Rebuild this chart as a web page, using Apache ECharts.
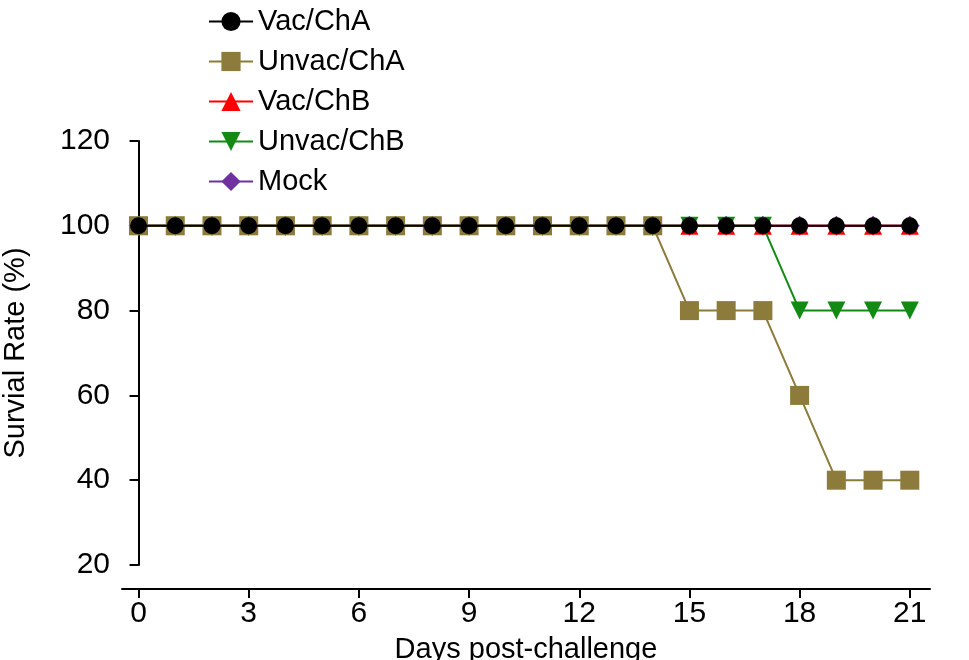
<!DOCTYPE html>
<html><head><meta charset="utf-8">
<script src="https://cdn.jsdelivr.net/npm/echarts@6/dist/echarts.min.js"></script>
<style>html,body{margin:0;background:#fff}#root{width:969px;height:660px}</style>
</head><body><div id="root"></div>
<script>
// days 0..21
var days = [];
for (var d = 0; d <= 21; d++) days.push(d);
var vacChA   = [100,100,100,100,100,100,100,100,100,100,100,100,100,100,100,100,100,100,100,100,100,100];
var unvacChA = [100,100,100,100,100,100,100,100,100,100,100,100,100,100,100,80,80,80,60,40,40,40];
var vacChB   = [100,100,100,100,100,100,100,100,100,100,100,100,100,100,100,100,100,100,100,100,100,100];
var unvacChB = [100,100,100,100,100,100,100,100,100,100,100,100,100,100,100,100,100,100,80,80,80,80];
var mock     = [100,100,100,100,100,100,100,100,100,100,100,100,100,100,100,100,100,100,100,100,100,100];
var xTicks = [0,3,6,9,12,15,18,21];
var legendNames = ['Vac/ChA','Unvac/ChA','Vac/ChB','Unvac/ChB','Mock'];

function pairs(v){ return days.map(function(d,i){ return [d, v[i]]; }); }
function ser(name, v, color, symbol, size, z){
  return { name:name, type:'line', data:pairs(v), symbol:symbol, symbolSize:size, z:z,
    itemStyle:{color:color}, lineStyle:{color:color, width:2}, animation:false };
}

var myChart = echarts.init(document.getElementById('root'));
var font = 'Liberation Sans, Arial, sans-serif';
myChart.setOption({
  textStyle:{fontFamily:font},
  grid:{left:122, right:39, top:141, bottom:95, outerBoundsMode:'none'},
  legend:{orient:'vertical', left:203, top:2, itemGap:11, itemWidth:44, itemHeight:24,
    data:legendNames, textStyle:{fontSize:29, color:'#000', fontFamily:font}},
  xAxis:{type:'value', min:-0.45, max:21.55, offset:24,
    name:'Days post-challenge', nameLocation:'middle', nameGap:46,
    nameTextStyle:{fontSize:29, color:'#000'},
    axisLine:{lineStyle:{color:'#000', width:2}},
    axisTick:{customValues:xTicks, length:9, lineStyle:{color:'#000', width:2}},
    axisLabel:{customValues:xTicks, fontSize:30, color:'#000', margin:10},
    splitLine:{show:false}},
  yAxis:{type:'value', min:20, max:120, interval:20,
    name:'Survial Rate (%)', nameLocation:'middle', nameGap:92,
    nameTextStyle:{fontSize:29, color:'#000'},
    axisLine:{show:true, lineStyle:{color:'#000', width:2}},
    axisTick:{show:true, length:9, lineStyle:{color:'#000', width:2}},
    axisLabel:{fontSize:30, color:'#000', margin:12},
    splitLine:{show:false}},
  series:[
    ser('Mock', mock, '#7030a0', 'diamond', 20, 1),
    ser('Vac/ChB', vacChB, '#ff0000', 'triangle', 18, 2),
    ser('Unvac/ChB', unvacChB, '#138a13', 'path://M0,0L10,0L5,9Z', 18, 3),
    ser('Unvac/ChA', unvacChA, '#8c7b3a', 'rect', 19, 4),
    ser('Vac/ChA', vacChA, '#000000', 'circle', 17, 5)
  ]
});
</script></body></html>
